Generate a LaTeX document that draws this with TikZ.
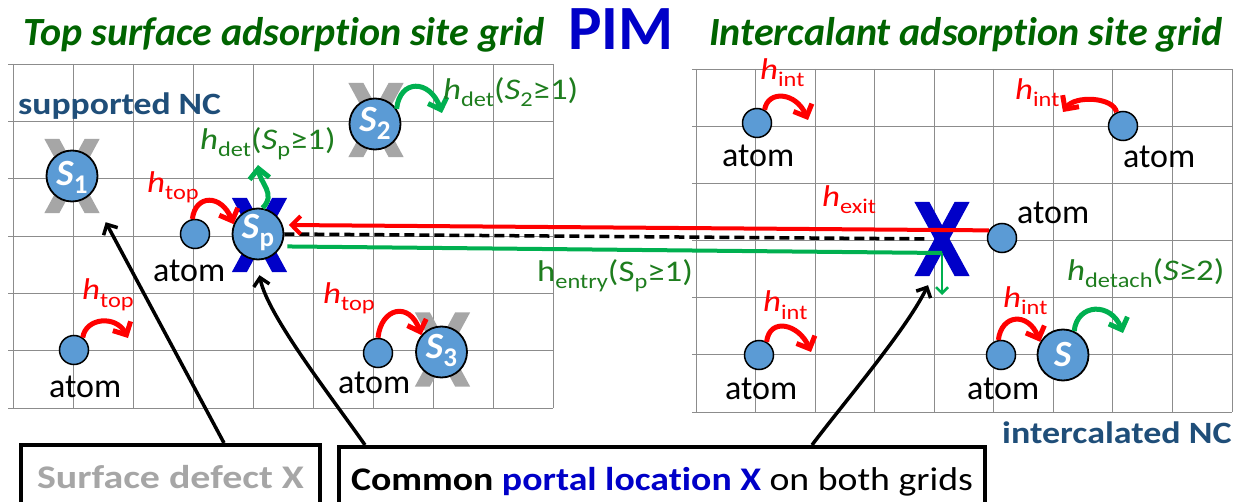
\documentclass[tikz,border=0pt]{standalone}
\usepackage{fontspec}
\usepackage{graphicx}
\setmainfont{Carlito}[Ligatures=NoCommon]
\usetikzlibrary{arrows.meta}
\definecolor{atomblue}{HTML}{5B9BD5}
\definecolor{xgray}{HTML}{A6A6A6}
\definecolor{xblue}{HTML}{0000C8}
\definecolor{arrgreen}{HTML}{00B050}
\definecolor{labgreen}{HTML}{1E7D1E}
\definecolor{titlegreen}{HTML}{006400}
\definecolor{ncblue}{HTML}{1F4E79}
\definecolor{gridgray}{HTML}{8C8C8C}
\newcommand{\fsz}[1]{\fontsize{#1}{#1}\selectfont}
\newcommand{\hstretch}[2][1.16]{\scalebox{#1}[1]{#2}}
\newcommand{\hsb}[1]{\textit{h}\raisebox{-7pt}{\fsz{21}#1}}
\newcommand{\hup}[1]{h\raisebox{-7pt}{\fsz{21}#1}}
\newcommand{\Ssub}[1]{\textit{S}\raisebox{-7pt}{\fsz{21}#1}}
\newcommand{\Sc}[1]{\textit{S}\raisebox{-8pt}{\fsz{27}#1}}
\newcommand{\XMark}[2]{%
  \fill[#2] (#1.north west) -- ++(15,0) -- (#1.south east) -- ++(-15,0) -- cycle;
  \fill[#2] (#1.north east) -- ++(-15,0) -- (#1.south west) -- ++(15,0) -- cycle;}
\tikzset{
  gridln/.style={draw=gridgray, line width=0.9pt},
  xmk/.style={minimum width=55pt, minimum height=74pt, inner sep=0pt},
  atomc/.style={circle, fill=atomblue, draw=black, line width=1.5pt, minimum size=29pt, inner sep=0pt},
  ncc/.style={circle, fill=atomblue, draw=black, line width=1.8pt, minimum size=51pt, inner sep=0pt},
  sl/.style={anchor=base, inner sep=0pt, text=white, font=\fsz{37}\bfseries},
  lab/.style={inner sep=0pt, anchor=base west, font=\fsz{30}},
  atomlab/.style={inner sep=0pt, anchor=base west, font=\fsz{34}},
  nclab/.style={inner sep=0pt, anchor=base west, text=ncblue, font=\fsz{31}\bfseries},
  ttl/.style={inner sep=0pt, anchor=base, text=titlegreen, font=\fsz{40}\bfseries\itshape},
  hop/.style={line width=5pt, -{Straight Barb[length=10pt,width=20pt]}},
  redhop/.style={hop, draw=red},
  greenhop/.style={hop, draw=arrgreen},
  blk/.style={line width=3.5pt, -{Straight Barb[length=8pt,width=16pt]}},
  dashln/.style={line width=3.5pt, dash pattern=on 10pt off 5pt},
  boxn/.style={draw=black, line width=4pt, fill=white, anchor=north west, inner sep=0pt,
    text height=22pt, text depth=6pt, minimum height=70pt, font=\fsz{33}},
}
\begin{document}
\begin{tikzpicture}[x=1pt,y=-1pt]
\clip (0,0) rectangle (1238,502);
\fill[white] (0,0) rectangle (1238,502);
% grids
\foreach \i in {0,...,9} \draw[gridln] ({13+60*\i},64) -- ({13+60*\i},408);
\foreach \j in {0,...,6} \draw[gridln] (8,{64+57.33*\j}) -- (553,{64+57.33*\j});
\foreach \i in {0,...,9} \draw[gridln] ({696+59.56*\i},69) -- ({696+59.56*\i},412);
\foreach \j in {0,...,6} \draw[gridln] (692,{69+57.17*\j}) -- (1232,{69+57.17*\j});
% titles
\node[ttl] (t1) at (284,46) {Top surface adsorption site grid};
\node[inner sep=0pt, anchor=base, text=xblue, font=\fsz{63}\bfseries] (pim) at (621,50) {PIM};
\node[ttl] (t2) at (966,46) {Intercalant adsorption site grid};
\node[nclab] (snc) at (18,115) {\hstretch[1.15]{supported NC}};
\node[nclab] (inc) at (1002,443) {\hstretch[1.16]{intercalated NC}};
% X marks
\node[xmk] (x1) at (72,176) {}; \XMark{x1}{xgray}
\node[xmk] (x2) at (376,120) {}; \XMark{x2}{xgray}
\node[xmk] (x3) at (442.5,349.5) {}; \XMark{x3}{xgray}
\node[xmk] (xp) at (259.5,235) {}; \XMark{xp}{xblue}
\node[xmk] (xr) at (942,239) {}; \XMark{xr}{xblue}
% atoms
\node[atomc] (a1) at (195,234) {};
\node[atomc] (a2) at (74,350) {};
\node[atomc] (a3) at (378,353) {};
\node[atomc] (a4) at (757,123) {};
\node[atomc] (a5) at (1123,126) {};
\node[atomc] (a6) at (1002,238) {};
\node[atomc] (a7) at (759,355) {};
\node[atomc] (a8) at (1001,355) {};
\node[atomlab] (l1) at (153,282) {atom};
\node[atomlab] (l2) at (49,397) {atom};
\node[atomlab] (l3) at (338,393) {atom};
\node[atomlab] (l4) at (722,167) {atom};
\node[atomlab] (l5) at (1123,168) {atom};
\node[atomlab] (l6) at (1017,224) {atom};
\node[atomlab] (l7) at (725,399) {atom};
\node[atomlab] (l8) at (967,399) {atom};
% NC circles
\node[ncc] (s1) at (72,176) {};
\node[ncc] (s2) at (375,124) {};
\node[ncc] (sp) at (258,234) {};
\node[ncc] (s3) at (441.5,352) {};
\node[ncc] (sr) at (1063,355) {};
\node[sl] (s1t) at ([yshift=-10pt]s1.center) {\Sc{1}};
\node[sl] (s2t) at ([yshift=-8pt]s2.center) {\Sc{2}};
\node[sl] (spt) at ([yshift=-5pt]sp.center) {\Sc{p}};
\node[sl] (s3t) at ([yshift=-6pt]s3.center) {\Sc{3}};
\node[sl] (srt) at ([yshift=-11pt]sr.center) {\textit{S}};
% long connectors
\draw[dashln, shorten >=15pt] (sp.east) -- (xr.center);
\draw[draw=arrgreen, line width=4pt, shorten <=6pt] (sp.-28) -- ([yshift=-14pt]xr.center);
\draw[draw=arrgreen, line width=2.5pt, -{Straight Barb[length=6pt,width=12pt]}] ([yshift=-14pt]xr.center) -- ([yshift=-56pt]xr.center);
\draw[draw=red, line width=4pt, shorten >=6pt, -{Straight Barb[length=9pt,width=18pt]}] (a6.150) -- (sp.20);
% free ends
\coordinate (e2) at (128,338);
\coordinate (e4) at (808,120);
\coordinate (e5) at (1063,112);
\coordinate (e6) at (811,352);
\coordinate (e8) at (442,113);
\coordinate (e9) at (1123,333);
\coordinate (ep) at (258,165);
% hops
\draw[redhop] (a1.100) .. controls +(3,-25) and +(-12,-30) .. (sp.158);
\draw[redhop] (a2.55) .. controls +(3,-20) and +(-12,-23) .. (e2);
\draw[redhop] (a3.north) .. controls +(3,-30) and +(-12,-34) .. (s3.140);
\draw[redhop] (a4.60) .. controls +(3,-20) and +(-12,-28) .. (e4);
\draw[redhop] (a5.115) .. controls +(-3,-15) and +(12,-17) .. (e5);
\draw[redhop] (a7.60) .. controls +(3,-25) and +(-12,-28) .. (e6);
\draw[redhop] (a8.100) .. controls +(3,-26) and +(-12,-30) .. (sr.150);
\draw[greenhop] (s2.35) .. controls +(3,-30) and +(-12,-34) .. (e8);
\draw[greenhop] (sr.65) .. controls +(3,-28) and +(-12,-31) .. (e9);
\draw[greenhop] (sp.80) .. controls +(14,-14) and +(2,18) .. (ep);
% labels
\node[lab, text=red] (ht1) at (147,193) {\hstretch{\hsb{top}}};
\node[lab, text=red] (ht2) at (82,300) {\hstretch{\hsb{top}}};
\node[lab, text=red] (ht3) at (323,303) {\hstretch{\hsb{top}}};
\node[lab, text=labgreen] (hd1) at (200,150) {\hstretch{\hsb{det}(\Ssub{p}≥1)}};
\node[lab, text=labgreen] (hd2) at (443,100) {\hstretch{\hsb{det}(\Ssub{2}≥1)}};
\node[lab, text=red] (hex) at (822,207) {\hstretch{\hsb{exit}}};
\node[lab, text=labgreen] (hen) at (537,282) {\hstretch{\hup{entry}(S\raisebox{-7pt}{\fsz{21}p}≥1)}};
\node[lab, text=red] (hi1) at (760,80) {\hstretch{\hsb{int}}};
\node[lab, text=red] (hi2) at (1015,100) {\hstretch{\hsb{int}}};
\node[lab, text=red] (hi3) at (763,312) {\hstretch{\hsb{int}}};
\node[lab, text=red] (hi4) at (1003,307) {\hstretch{\hsb{int}}};
\node[lab, text=labgreen] (hdt) at (1067,280) {\hstretch{\hsb{detach}(\textit{S}≥2)}};
% boxes
\node[boxn, minimum width=299pt] (b1) at (19,443) {\hstretch[1.21]{\textcolor{xgray}{\bfseries Surface defect X}}};
\node[boxn, minimum width=646pt] (b2) at (337,445) {\hstretch[1.145]{{\bfseries Common \textcolor{xblue}{portal location X}} on both grids}};
% pointer arrows
\draw[blk] ([xshift=53.5pt]b1.north) -- ([shift={(6,9)}]x1.south east);
\draw[blk] ([xshift=-297pt]b2.north) .. controls +(-35,-50) and +(8,40) .. ([yshift=-3pt]xp.south);
\draw[blk] ([xshift=150pt]b2.north) .. controls +(30,-40) and +(-22,45) .. ([shift={(-14,9)}]xr.south);
\end{tikzpicture}
\end{document}
